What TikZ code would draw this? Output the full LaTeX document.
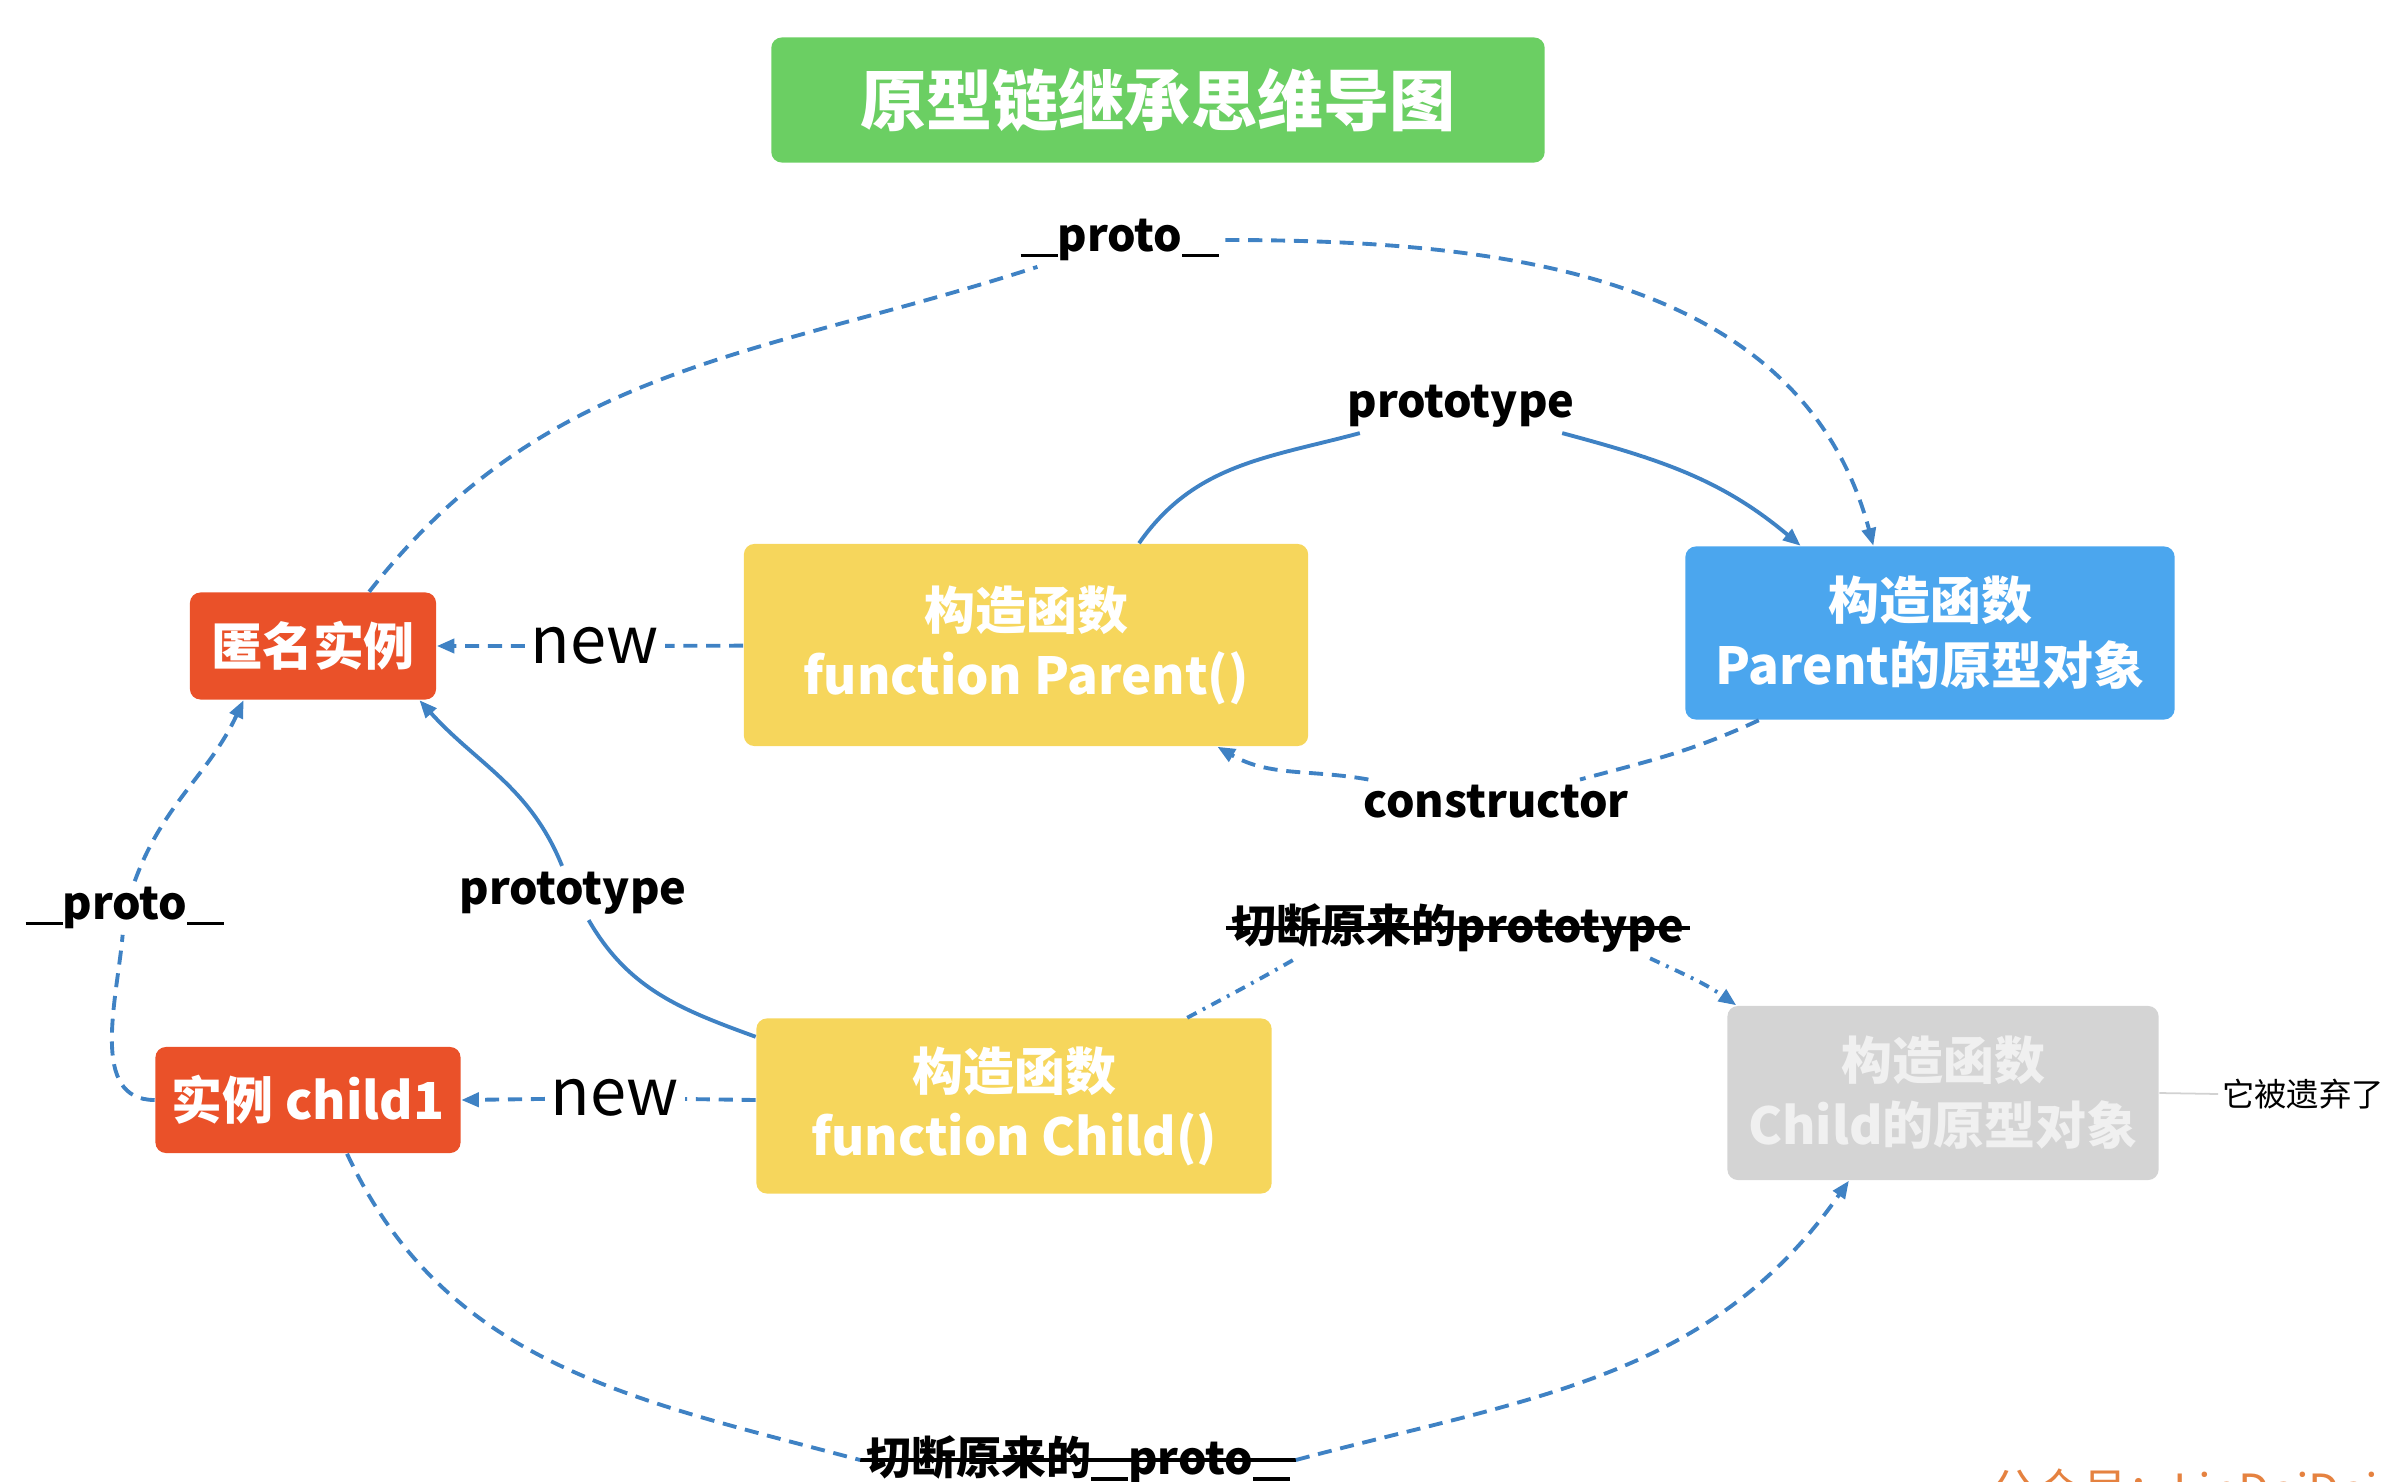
\documentclass[tikz,border=0pt]{standalone}
\usepackage{fontspec}
\setmainfont{Noto Sans CJK SC}
\usetikzlibrary{arrows.meta}

\definecolor{titlegreen}{HTML}{6BCF63}
\definecolor{instred}{HTML}{EA5129}
\definecolor{ctoryellow}{HTML}{F6D65C}
\definecolor{protoblue}{HTML}{4BA6EE}
\definecolor{lostgray}{HTML}{D4D4D4}
\definecolor{linkblue}{HTML}{3F82C4}
\definecolor{markorange}{HTML}{E58240}
\newcommand\protobar{\rule[-0.13em]{0.41em}{0.08em}}

\begin{document}
\begin{tikzpicture}[x=0.01cm,y=0.01cm,
    box_node/.style={rounded corners=3pt,inner sep=0pt,text=white,align=center,font=\fontsize{14.5pt}{18.5pt}\selectfont\bfseries},
    link_label/.style={inner sep=1.5pt,font=\fontsize{12.8pt}{15pt}\selectfont\bfseries},
    new_label/.style={inner sep=1.5pt,font=\fontsize{18.5pt}{20pt}\selectfont},
    solid_link/.style={draw=linkblue,line width=1.1pt},
    dashed_link/.style={solid_link,dash pattern=on 4pt off 2.5pt},
    dotted_link/.style={solid_link,dash pattern=on 3pt off 2pt on 0.8pt off 2pt},
    arrow_end/.style={-{Triangle[length=5pt,width=4pt]}}]

    \useasboundingbox (0,0) rectangle (2382,-1482);

    % boxes
    \node[box_node,fill=titlegreen,minimum width=7.73cm,minimum height=1.25cm,font=\fontsize{18.8pt}{22pt}\selectfont\bfseries] (title) at (1158,-100) {原型链继承思维导图};
    \node[box_node,fill=instred,minimum width=2.46cm,minimum height=1.07cm] (anon) at (313,-646) {匿名实例};
    \node[box_node,fill=ctoryellow,minimum width=5.64cm,minimum height=2.02cm] (parent) at (1026,-645) {构造函数\\function Parent()};
    \node[box_node,fill=protoblue,minimum width=4.89cm,minimum height=1.73cm] (parent_proto) at (1930,-633) {构造函数\\Parent的原型对象};
    \node[box_node,fill=instred,minimum width=3.05cm,minimum height=1.06cm] (child1) at (308,-1100) {实例 child1};
    \node[box_node,fill=ctoryellow,minimum width=5.15cm,minimum height=1.75cm] (child) at (1014,-1106) {构造函数\\function Child()};
    \node[box_node,fill=lostgray,text=white!94!black,minimum width=4.31cm,minimum height=1.74cm] (child_proto) at (1943,-1093) {构造函数\\Child的原型对象};
    \node[anchor=west,inner sep=1pt,font=\fontsize{9.2pt}{11pt}\selectfont] (abandoned) at (2218,-1094) {它被遗弃了};
    \node[anchor=west,inner sep=0pt,text=markorange,font=\fontsize{13pt}{15pt}\selectfont] (mark) at (1990,-1490) {公众号：LinDaiDai};

    % labels
    \node[link_label] (proto_top) at (1120,-240) {\protobar\protobar proto\protobar\protobar};
    \node[link_label] (prototype_top) at (1461,-406) {prototype};
    \node[link_label] (ctor) at (1496,-802) {constructor};
    \node[new_label] (new_top) at (595,-646) {new};
    \node[new_label] (new_bottom) at (615,-1098) {new};
    \node[link_label] (prototype_left) at (573,-893) {prototype};
    \node[link_label] (proto_left) at (125,-908) {\protobar\protobar proto\protobar\protobar};
    \node[link_label] (cut_prototype) at (1458,-928) {切断原来的prototype};
    \node[link_label] (cut_proto) at (1078,-1460) {切断原来的\protobar\protobar proto\protobar\protobar};
    \draw[line width=1.2pt] (cut_prototype.west) -- (cut_prototype.east);
    \draw[line width=1.2pt] (cut_proto.west) -- (cut_proto.east);

    % links
    \draw[dashed_link,arrow_end] (anon.44) to[out=52,in=198] (proto_top) to[out=0,in=105] (parent_proto.123);
    \draw[solid_link,arrow_end] (parent.42) to[out=55,in=195] (prototype_top) to[out=-15,in=140] (parent_proto.146);
    \draw[dashed_link,arrow_end] (parent_proto.207) to[out=205,in=15] (ctor) to[out=170,in=-30] (parent.-28);
    \draw[dashed_link,arrow_end] (parent) -- (new_top) -- (anon);
    \draw[dashed_link,arrow_end] (child.west |- child1.east) -- (new_bottom) -- (child1.east);
    \draw[solid_link,arrow_end] (child.165) to[out=160,in=-60] (prototype_left) to[out=112,in=-48] (anon.-27);
    \draw[dashed_link,arrow_end] (child1.west) to[out=180,in=-95] (proto_left) to[out=70,in=-115] (anon.-142);
    \draw[dotted_link] (child.27) to[out=28,in=-150] ([xshift=7mm]cut_prototype.south west);
    \draw[dotted_link,arrow_end] ([xshift=-4mm]cut_prototype.south east) to[out=-25,in=145] (child_proto.157);
    \draw[dashed_link] (child1.-54) to[out=-65,in=165] (cut_proto.west);
    \draw[dashed_link,arrow_end] (cut_proto.east) to[out=15,in=-125] (child_proto.-137);
    \draw[gray!35,line width=0.5pt] (child_proto.east) -- (abandoned.west);
\end{tikzpicture}
\end{document}
